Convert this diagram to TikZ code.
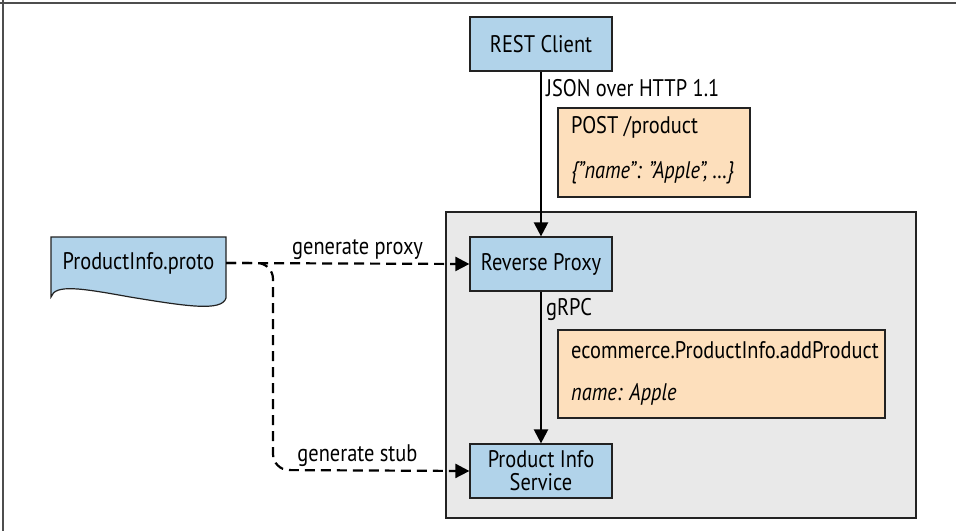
\documentclass[tikz,border=0pt]{standalone}
\usepackage{fontspec}
\setmainfont{PT Sans}[FakeStretch=0.85]
\usetikzlibrary{arrows.meta}
\definecolor{boxblue}{HTML}{B1D3EA}
\definecolor{notepeach}{HTML}{FDDFBC}
\definecolor{zonegray}{HTML}{E9E9E9}
\definecolor{edge}{HTML}{222222}
\tikzset{
  svc/.style={draw=edge, line width=1.2pt, fill=boxblue, minimum width=142pt, minimum height=54pt, inner sep=0pt, align=center, font=\fontsize{24}{24}\selectfont},
  note/.style={draw=edge, line width=1.2pt, fill=notepeach},
  txt/.style={inner sep=0pt, font=\fontsize{24}{28}\selectfont},
  flow/.style={line width=2.2pt, draw=black, -{Triangle[length=14pt,width=14pt]}},
  gen/.style={flow, dash pattern=on 10pt off 6pt},
}
\begin{document}
\begin{tikzpicture}[x=1pt, y=-1pt]
\useasboundingbox (0,0) rectangle (956,531);
% page frame (top and left edges only)
\draw[draw=edge!80, line width=1.6pt] (0,3) -- (956,3);
\draw[draw=edge!80, line width=1.6pt] (3,0) -- (3,531);

% server-side zone
\draw[draw=edge, line width=1.2pt, fill=zonegray] (446,212) rectangle (916,518);

% protocol notes
\draw[note] (558,108) rectangle (750,197);
\node[txt, anchor=west] (post) at (571,127) {POST /product};
\node[txt, anchor=west] (json) at (571,173) {\itshape \{"name": "Apple", …\}};
\draw[note] (558,330) rectangle (885,418);
\node[txt, anchor=west] (rpc) at (571,350) {ecommerce.ProductInfo.addProduct};
\node[txt, anchor=west] (arg) at (571,394) {\itshape name: Apple};

% services
\node[svc] (rest) at (541,44) {REST Client};
\node[svc] (proxy) at (541,264) {Reverse Proxy};
\node[svc] (pis) at (541,471) {Product Info\\[-1pt]Service};

% proto definition document
\draw[draw=edge, line width=1.2pt, fill=boxblue]
  (51,237) -- (226,237) -- (226,298)
  .. controls (222,312) and (185,306) .. (130,297)
  .. controls (80,288) and (55,284) .. (51,297) -- cycle;
\node[txt, minimum width=175pt, minimum height=52pt] (proto) at (138.5,263) {\raisebox{3pt}{ProductInfo.proto}};
\coordinate (bend) at (273,470);

% connectors
\draw[flow] (rest) -- node[txt, anchor=west, pos=0.1, xshift=4pt] (httplbl) {JSON over HTTP 1.1} (proxy);
\draw[flow] (proxy) -- node[txt, anchor=west, pos=0.12, xshift=4pt] (grpclbl) {gRPC} (pis);
\draw[gen] (proto.east) -- node[txt, above=3pt, pos=0.54] (genproxy) {generate proxy} (proxy.west);
\draw[gen, rounded corners=16pt] (proto.east) -| (bend) -- node[txt, above=3pt, pos=0.43] (genstub) {generate stub} (pis.west);
\end{tikzpicture}
\end{document}
